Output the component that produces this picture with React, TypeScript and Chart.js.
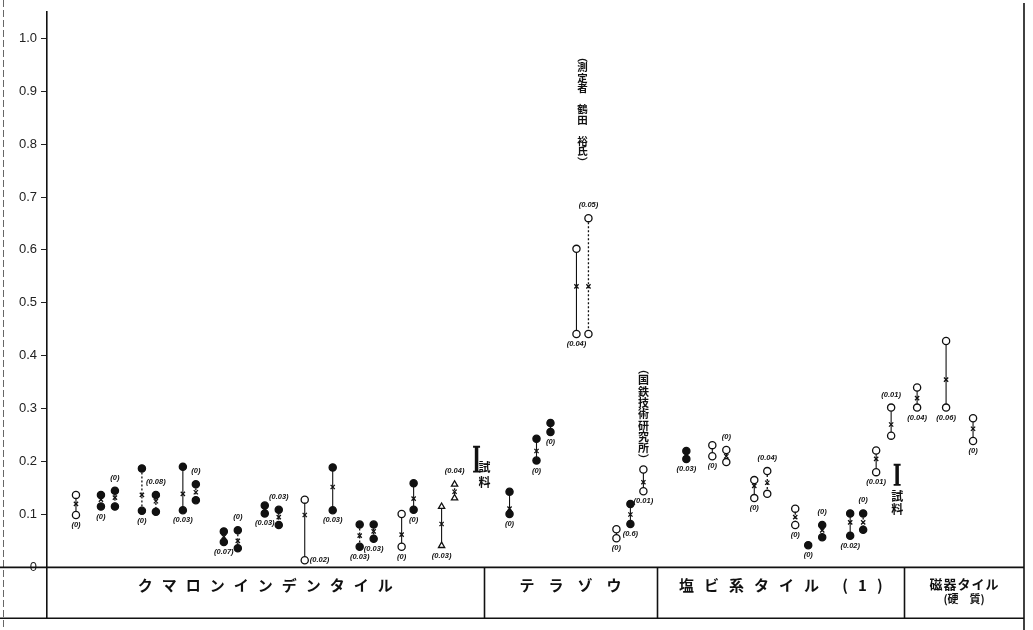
import { useEffect, useRef } from 'react';
import { Chart, registerables } from 'chart.js';

Chart.register(...registerables);

// ---- data ----
const yTicks = [0, 0.1, 0.2, 0.3, 0.4, 0.5, 0.6, 0.7, 0.8, 0.9, 1.0];

const groupNames = ['クマロンインデンタイル', 'テラゾウ', '塩ビ系タイル (1)', '磁器タイル'];
const groupSubNames = ['', '', '', '(硬　質)'];
const groupBounds = [0, 43.7, 61.1, 85.8, 97.8];

const samplePos = [
  2.9, 5.4, 6.8, 9.5, 10.9, 13.6, 14.9, 17.7, 19.1, 21.8, 23.2, 25.8, 28.6, 31.3, 32.7, 35.5, 36.7, 39.5, 40.8,
  46.3, 49.0, 50.4, 53.0, 54.2, 57.0, 58.4, 59.7,
  64.0, 66.6, 68.0, 70.8, 72.1, 74.9, 76.2, 77.6, 80.4, 81.7, 83.0, 84.5,
  87.1, 90.0, 92.7,
];
const sampleHigh = [
  0.137, 0.137, 0.145, 0.187, 0.137, 0.19, 0.157, 0.068, 0.07, 0.117, 0.109, 0.128, 0.189, 0.081, 0.081, 0.101, 0.159, 0.115, 0.157,
  0.143, 0.243, 0.273, 0.602, 0.66, 0.072, 0.12, 0.185,
  0.22, 0.231, 0.222, 0.165, 0.182, 0.111, 0.042, 0.08, 0.102, 0.102, 0.221, 0.302,
  0.34, 0.428, 0.282,
];
const sampleLow = [
  0.099, 0.115, 0.115, 0.107, 0.105, 0.108, 0.127, 0.048, 0.036, 0.102, 0.08, 0.0135, 0.108, 0.039, 0.054, 0.039, 0.109, 0.041, 0.131,
  0.101, 0.202, 0.256, 0.441, 0.441, 0.055, 0.082, 0.144,
  0.205, 0.21, 0.199, 0.131, 0.139, 0.08, 0.042, 0.057, 0.06, 0.071, 0.18, 0.249,
  0.302, 0.302, 0.239,
];
const sampleMean = [
  0.12, 0.128, 0.132, 0.137, 0.125, 0.139, 0.142, 0.058, 0.05, 0.11, 0.095, 0.099, 0.152, 0.06, 0.068, 0.062, 0.13, 0.082, 0.143,
  0.111, 0.22, null, 0.531, 0.531, null, 0.1, 0.161,
  null, null, 0.21, 0.154, 0.16, 0.095, null, 0.07, 0.085, 0.085, 0.205, 0.27,
  0.32, 0.355, 0.262,
];
// o = open circle, f = filled circle, t = open triangle
const sampleMarker = [
  'o', 'f', 'f', 'f', 'f', 'f', 'f', 'f', 'f', 'f', 'f', 'o', 'f', 'f', 'f', 'o', 'f', 't', 't',
  'f', 'f', 'f', 'o', 'o', 'o', 'f', 'o',
  'f', 'o', 'o', 'o', 'o', 'o', 'f', 'f', 'f', 'f', 'o', 'o',
  'o', 'o', 'o',
];
// s = solid range line, d = dotted range line
const sampleLine = [
  's', 'd', 'd', 'd', 'd', 's', 'd', 'd', 'd', 'd', 'd', 's', 's', 'd', 'd', 's', 's', 's', 'd',
  's', 's', 'd', 's', 'd', 's', 's', 's',
  'd', 's', 'd', 's', 'd', 'd', 's', 'd', 's', 'd', 's', 's',
  's', 's', 's',
];
const sampleNote = [
  '(0)', '(0)', '(0)', '(0)', '(0.08)', '(0.03)', '(0)', '(0.07)', '(0)', '(0.03)', '(0.03)', '(0.02)', '(0.03)', '(0.03)', '(0.03)', '(0)', '(0)', '(0.03)', '(0.04)',
  '(0)', '(0)', '(0)', '(0.04)', '(0.05)', '(0)', '(0.6)', '(0.01)',
  '(0.03)', '(0)', '(0)', '(0)', '(0.04)', '(0)', '(0)', '(0)', '(0.02)', '(0)', '(0.01)', '(0.01)',
  '(0.04)', '(0.06)', '(0)',
];
const sampleNoteSide = [
  'b', 'b', 'a', 'b', 'a', 'b', 'a', 'b', 'a', 'b', 'a', 'r', 'b', 'b', 'b', 'b', 'b', 'b', 'a',
  'b', 'b', 'b', 'b', 'a', 'b', 'b', 'b',
  'b', 'b', 'a', 'b', 'a', 'b', 'b', 'a', 'b', 'a', 'b', 'a',
  'b', 'b', 'b',
];

const refPos = [43.0, 85.1];
const refHigh = [0.228, 0.194];
const refLow = [0.181, 0.156];
const refLabel = '試料';

const annotMeasurer = '︵測定者　鶴田　裕氏︶';
const annotInstitute = '︵国鉄技術研究所︶';

const INK = '#111';

const framePlugin = {
  id: 'frame',
  beforeDatasetsDraw(chart: any) {
    const { ctx, chartArea, scales } = chart;
    const x = scales.x;
    const y = scales.y;
    const y0 = y.getPixelForValue(0);
    ctx.save();
    ctx.lineWidth = 1;
    ctx.strokeStyle = '#666';
    ctx.setLineDash([7, 3]);
    ctx.beginPath();
    ctx.moveTo(3.5, 0);
    ctx.lineTo(3.5, 630);
    ctx.stroke();
    ctx.setLineDash([]);
    ctx.strokeStyle = INK;
    ctx.lineWidth = 1.6;
    ctx.beginPath();
    ctx.moveTo(0, y0);
    ctx.lineTo(chartArea.right, y0);
    ctx.stroke();
    ctx.lineWidth = 1.4;
    ctx.beginPath();
    ctx.moveTo(0, chartArea.bottom);
    ctx.lineTo(chartArea.right, chartArea.bottom);
    ctx.stroke();
    ctx.lineWidth = 1.6;
    ctx.beginPath();
    ctx.moveTo(chartArea.right, 3);
    ctx.lineTo(chartArea.right, 630);
    ctx.stroke();
    for (let i = 1; i < groupBounds.length - 1; i++) {
      const px = Math.round(x.getPixelForValue(groupBounds[i])) + 0.5;
      ctx.beginPath();
      ctx.moveTo(px, y0);
      ctx.lineTo(px, chartArea.bottom);
      ctx.stroke();
    }
    ctx.restore();
  },
  afterDatasetsDraw(chart: any) {
    const { ctx, scales } = chart;
    const x = scales.x;
    const y = scales.y;
    const y0 = y.getPixelForValue(0);
    ctx.save();
    ctx.fillStyle = INK;
    ctx.textAlign = 'center';
    ctx.textBaseline = 'middle';

    const spacing = [9, 14, 10, 1];
    const c = ctx as any;
    groupNames.forEach((name, i) => {
      const cx = (x.getPixelForValue(groupBounds[i]) + x.getPixelForValue(groupBounds[i + 1])) / 2;
      c.letterSpacing = spacing[i] + 'px';
      const sub = groupSubNames[i];
      if (sub) {
        ctx.font = 'bold 13px "Noto Sans CJK JP"';
        ctx.fillText(name, cx + spacing[i] / 2, y0 + 17);
        c.letterSpacing = '0px';
        ctx.font = 'bold 11px "Noto Sans CJK JP"';
        ctx.fillText(sub, cx, y0 + 31);
      } else {
        ctx.font = 'bold 15px "Noto Sans CJK JP"';
        ctx.fillText(name, cx + spacing[i] / 2, y0 + 18);
      }
    });
    c.letterSpacing = '0px';

    ctx.font = 'italic bold 7.5px "Liberation Sans"';
    samplePos.forEach((p, i) => {
      const px = x.getPixelForValue(p);
      const hi = y.getPixelForValue(sampleHigh[i]);
      const lo = y.getPixelForValue(sampleLow[i]);
      const side = sampleNoteSide[i];
      if (side === 'a') {
        ctx.textAlign = 'center';
        ctx.fillText(sampleNote[i], px, hi - 13);
      } else if (side === 'r') {
        ctx.textAlign = 'left';
        ctx.fillText(sampleNote[i], px + 5, lo);
      } else {
        ctx.textAlign = 'center';
        ctx.fillText(sampleNote[i], px, lo + 10);
      }
    });

    ctx.font = 'bold 12px "Noto Sans CJK JP"';
    ctx.textAlign = 'center';
    refPos.forEach((p, i) => {
      const px = x.getPixelForValue(p);
      const lo = y.getPixelForValue(refLow[i]);
      Array.from(refLabel).forEach((ch, k) => {
        if (i === 0) ctx.fillText(ch, px + 8, lo - 4 + k * 15);
        else ctx.fillText(ch, px, lo + 12 + k * 13);
      });
    });

    const drawVertical = (text: string, cx: number, top: number, pitch: number, size: number) => {
      ctx.font = `bold ${size}px "Noto Sans CJK JP"`;
      ctx.textAlign = 'center';
      Array.from(text).forEach((ch, k) => {
        ctx.fillText(ch, cx, top + k * pitch);
      });
    };
    drawVertical(
      annotMeasurer,
      (x.getPixelForValue(samplePos[22]) + x.getPixelForValue(samplePos[23])) / 2,
      y.getPixelForValue(0.965),
      10.5,
      10.5
    );
    drawVertical(annotInstitute, x.getPixelForValue(samplePos[26]), y.getPixelForValue(0.375), 11.3, 11);
    ctx.restore();
  },
};

export default function App() {
  const ref = useRef<HTMLCanvasElement | null>(null);

  useEffect(() => {
    document.body.style.margin = '0';
    document.body.style.overflow = 'hidden';
    const canvas = ref.current;
    if (!canvas) return;

    const datasets: any[] = [];
    samplePos.forEach((p, i) => {
      const single = sampleHigh[i] === sampleLow[i];
      datasets.push({
        type: 'line',
        data: single ? [{ x: p, y: sampleHigh[i] }] : [{ x: p, y: sampleHigh[i] }, { x: p, y: sampleLow[i] }],
        borderColor: INK,
        borderWidth: sampleLine[i] === 'd' ? 1.3 : 1.1,
        borderDash: sampleLine[i] === 'd' ? [2, 2] : [],
        pointStyle: sampleMarker[i] === 't' ? 'triangle' : 'circle',
        pointRadius: 3.6,
        pointBackgroundColor: sampleMarker[i] === 'f' ? INK : '#fff',
        pointBorderColor: INK,
        pointBorderWidth: 1.3,
        fill: false,
        tension: 0,
        order: 2,
      });
    });
    datasets.push({
      type: 'scatter',
      data: samplePos
        .map((p, i) => ({ x: p, y: sampleMean[i] }))
        .filter((d) => d.y !== null),
      pointStyle: 'crossRot',
      pointRadius: 3,
      borderColor: INK,
      backgroundColor: INK,
      pointBorderWidth: 1.3,
      showLine: false,
      order: 1,
    });
    refPos.forEach((p, i) => {
      datasets.push({
        type: 'line',
        data: [{ x: p, y: refHigh[i] }, { x: p, y: refLow[i] }],
        borderColor: INK,
        borderWidth: 3.5,
        pointStyle: 'line',
        pointRadius: 3.5,
        pointBorderColor: INK,
        pointBorderWidth: 1.8,
        fill: false,
        order: 1,
      });
    });

    const chart = new Chart(canvas, {
      type: 'line',
      data: { datasets },
      plugins: [framePlugin],
      options: {
        animation: false,
        responsive: false,
        maintainAspectRatio: false,
        layout: { padding: { left: 0, right: 9, top: 8, bottom: 3 } },
        plugins: { legend: { display: false }, tooltip: { enabled: false } },
        scales: {
          x: { type: 'linear', min: groupBounds[0], max: groupBounds[groupBounds.length - 1], display: false },
          y: {
            type: 'linear',
            min: -0.096,
            max: 1.05,
            afterBuildTicks: (s: any) => {
              s.ticks = yTicks.map((v) => ({ value: v }));
            },
            afterFit: (s: any) => {
              s.width = 47;
            },
            ticks: {
              callback: (v: any) => (Number(v) === 0 ? '0' : Number(v).toFixed(1)),
              color: '#222',
              font: { family: '"Liberation Sans"', size: 13 },
              padding: 4,
            },
            grid: { drawOnChartArea: false, drawTicks: true, tickLength: 6, color: '#222', lineWidth: 1 },
            border: { display: true, color: INK, width: 1.6 },
          },
        },
      } as any,
    });
    return () => chart.destroy();
  }, []);

  return (
    <div style={{ width: 1033, height: 630, background: '#fff' }}>
      <canvas ref={ref} width={1033} height={630} style={{ display: 'block' }} />
    </div>
  );
}
